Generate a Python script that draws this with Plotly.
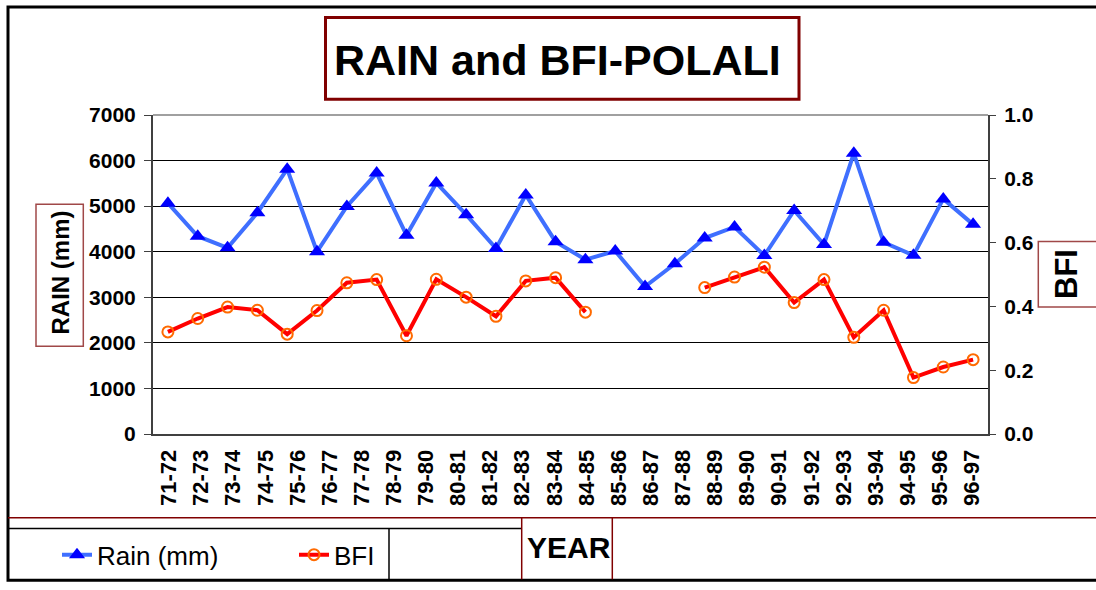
import plotly.graph_objects as go

# ---------------- data ----------------
years = ['71-72', '72-73', '73-74', '74-75', '75-76', '76-77', '77-78', '78-79',
         '79-80', '80-81', '81-82', '82-83', '83-84', '84-85', '85-86', '86-87',
         '87-88', '88-89', '89-90', '90-91', '91-92', '92-93', '93-94', '94-95',
         '95-96', '96-97']

rain_mm = [5065, 4340, 4087, 4855, 5812, 4000, 4993, 5725, 4362, 5510,
           4812, 4072, 5246, 4220, 3826, 4014, 3236, 3736, 4300, 4543,
           3917, 4906, 4159, 6160, 4205, 3920, 5159, 4600]

bfi = [0.320, 0.362, 0.398, 0.388, 0.313, 0.387, 0.474, 0.484, 0.308, 0.485,
       0.429, 0.369, 0.480, 0.490, 0.382, None, None, None, 0.459, 0.492,
       0.523, 0.412, 0.484, 0.303, 0.388, 0.177, 0.210, 0.233]

point_index = list(range(len(rain_mm)))

rain_ticks = [0, 1000, 2000, 3000, 4000, 5000, 6000, 7000]
bfi_ticks = [0.0, 0.2, 0.4, 0.6, 0.8, 1.0]

# ---------------- geometry helpers ----------------
W, H = 1096, 590
L, R, T, B = 153, 988, 115, 440   # plot area in px


def px(x):
    return (x - L) / (R - L)


def py(y):
    return (B - y) / (B - T)


n_pt = len(rain_mm)
n_lab = len(years)
label_pos = [(i + 0.5) * n_pt / n_lab - 0.5 for i in range(n_lab)]

FONT = 'Liberation Sans, Arial, sans-serif'
MAROON = '#800000'

fig = go.Figure()
fig.add_trace(go.Scatter(
    x=point_index, y=rain_mm, name='Rain (mm)', mode='lines+markers',
    line=dict(color='#3F6FFF', width=4),
    marker=dict(symbol='triangle-up', size=14, color='#0000FF'),
    yaxis='y'))
fig.add_trace(go.Scatter(
    x=point_index, y=bfi, name='BFI', mode='lines+markers',
    line=dict(color='#FF0000', width=4),
    marker=dict(symbol='circle-open', size=11, color='#FF6A00', line=dict(width=2)),
    connectgaps=False, yaxis='y2'))

shapes = [
    # outer frame
    dict(type='rect', xref='paper', yref='paper', x0=px(8), x1=px(1110), y0=py(5), y1=py(589),
         line=dict(color='black', width=3), layer='below'),
    # top plot border
    dict(type='line', xref='paper', yref='paper', x0=0, x1=1, y0=1, y1=1,
         line=dict(color='#A0A0A0', width=2)),
    # title box
    dict(type='rect', xref='paper', yref='paper', x0=px(325.5), x1=px(799), y0=py(15.7), y1=py(99),
         line=dict(color=MAROON, width=3), fillcolor='white'),
    # RAIN label box
    dict(type='rect', xref='paper', yref='paper', x0=px(36), x1=px(83.3), y0=py(206), y1=py(350.7),
         line=dict(color='#A04848', width=1.5)),
    # BFI label box
    dict(type='rect', xref='paper', yref='paper', x0=px(1038.3), x1=px(1110), y0=py(244), y1=py(310.7),
         line=dict(color='#A04848', width=1.5)),
    # bottom table lines
    dict(type='line', xref='paper', yref='paper', x0=px(8), x1=px(1110), y0=py(525.3), y1=py(525.3),
         line=dict(color=MAROON, width=1.5)),
    dict(type='line', xref='paper', yref='paper', x0=px(8), x1=px(521.7), y0=py(536.4), y1=py(536.4),
         line=dict(color='black', width=1.5)),
    dict(type='line', xref='paper', yref='paper', x0=px(389), x1=px(389), y0=py(536.4), y1=py(588),
         line=dict(color='black', width=1.5)),
    dict(type='line', xref='paper', yref='paper', x0=px(521.7), x1=px(521.7), y0=py(525.3), y1=py(588),
         line=dict(color=MAROON, width=1.5)),
    dict(type='line', xref='paper', yref='paper', x0=px(612.3), x1=px(612.3), y0=py(525.3), y1=py(588),
         line=dict(color=MAROON, width=1.5)),
]

annotations = [
    dict(text='RAIN and BFI-POLALI', xref='paper', yref='paper', x=px(557), y=py(58.7),
         xanchor='center', yanchor='middle', showarrow=False,
         font=dict(size=43, family=FONT, weight='bold', color='black')),
    dict(text='RAIN (mm)', xref='paper', yref='paper', x=px(60.5), y=py(276), textangle=-90,
         xanchor='center', yanchor='middle', showarrow=False,
         font=dict(size=24, family=FONT, weight='bold', color='black')),
    dict(text='BFI', xref='paper', yref='paper', x=px(1066), y=py(277), textangle=-90,
         xanchor='center', yanchor='middle', showarrow=False,
         font=dict(size=31, family=FONT, weight='bold', color='black')),
    dict(text='YEAR', xref='paper', yref='paper', x=px(569), y=py(555.2),
         xanchor='center', yanchor='middle', showarrow=False,
         font=dict(size=30, family=FONT, weight='bold', color='black')),
]

fig.update_layout(
    width=W, height=H, autosize=False,
    margin=dict(l=L, r=W - R, t=T, b=H - B, pad=0),
    paper_bgcolor='white', plot_bgcolor='white',
    font=dict(family=FONT, color='black'),
    showlegend=True,
    xaxis=dict(range=[-0.5, n_pt - 0.5], tickmode='array', tickvals=label_pos, ticktext=years,
               tickangle=-90, tickfont=dict(size=22, weight='bold'),
               showgrid=False, zeroline=False, showline=True, linecolor='#404040', linewidth=2,
               ticks='', ticklabelstandoff=5, fixedrange=True),
    yaxis=dict(range=[0, 7000], tickmode='array', tickvals=rain_ticks,
               tickfont=dict(size=21, weight='bold'),
               showgrid=True, gridcolor='black', gridwidth=1, zeroline=False,
               showline=True, linecolor='#404040', linewidth=2,
               ticks='outside', ticklen=7, tickcolor='#404040', ticklabelstandoff=4),
    yaxis2=dict(overlaying='y', side='right', range=[0, 1.0], tickmode='array', tickvals=bfi_ticks,
                tickformat='.1f', tickfont=dict(size=21, weight='bold'),
                showgrid=False, zeroline=False, showline=True, linecolor='#404040', linewidth=2,
                ticks='outside', ticklen=6, tickcolor='#404040', ticklabelstandoff=4),
    legend=dict(orientation='h', x=px(57), y=py(563), xanchor='left', yanchor='middle',
                font=dict(size=26, family=FONT), bgcolor='rgba(0,0,0,0)', borderwidth=0,
                entrywidth=192, entrywidthmode='pixels'),
    shapes=shapes,
    annotations=annotations,
)

post_js = """
var s = document.createElement('style');
s.innerHTML = 'html,body{margin:0;padding:0;overflow:hidden;}';
document.head.appendChild(s);
"""

fig.write_html('out.html', config={'displayModeBar': False}, post_script=post_js)
